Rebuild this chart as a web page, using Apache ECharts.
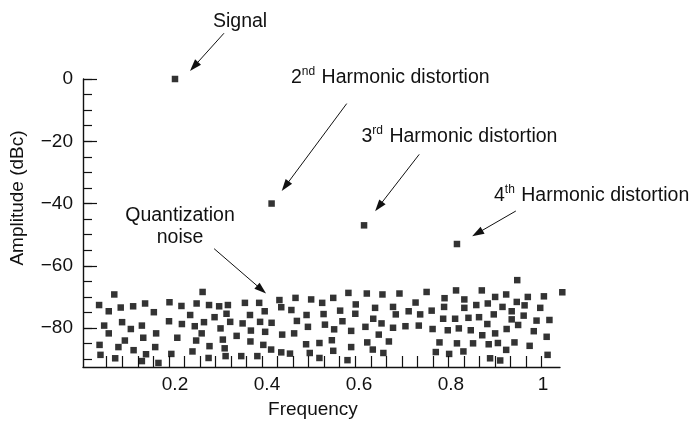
<!DOCTYPE html>
<html><head><meta charset="utf-8">
<script src="https://cdn.jsdelivr.net/npm/echarts@6/dist/echarts.min.js"></script>
<style>html,body{margin:0;padding:0;background:#fff}#c{width:693px;height:425px}</style>
</head><body><div id="c"></div>
<script>
// ---------- data ----------
const harmonicNames = ['Signal', '2nd', '3rd', '4th'];
const harmonicFreq = [0.2, 0.41, 0.611, 0.813];
const harmonicAmp = [0, -40, -47, -53];

const noiseFreq = [
 0.068,0.035,0.056,0.082,0.109,0.135,0.154,0.188,0.214,0.247,0.233,0.260,0.046,0.085,0.104,0.128,0.187,0.215,0.243,0.263,
 0.056,0.091,0.131,0.159,0.205,0.246,0.258,0.036,0.077,0.110,0.157,0.038,0.070,0.137,0.128,0.164,0.192,0.238,
 0.274,0.296,0.315,0.352,0.383,0.427,0.462,0.496,0.520,0.431,0.395,0.453,0.312,0.286,0.363,0.486,0.320,0.347,0.385,0.410,
 0.465,0.523,0.299,0.365,0.396,0.489,0.334,0.433,0.459,0.526,0.304,0.364,0.392,0.485,0.514,0.275,0.308,0.409,0.431,0.450,
 0.493,0.273,0.310,0.344,0.379,0.514,
 0.577,0.617,0.651,0.688,0.747,0.544,0.593,0.635,0.674,0.723,0.786,0.559,0.592,0.680,0.708,0.733,0.758,0.785,0.564,0.631,
 0.546,0.583,0.614,0.649,0.674,0.701,0.730,0.760,0.783,0.643,0.541,0.618,0.665,0.583,0.544,0.630,0.653,0.767,0.775,0.575,
 0.944,0.811,0.867,1.042,0.829,0.896,0.920,0.967,1.002,0.829,0.855,0.880,0.912,0.943,0.960,0.994,0.932,0.809,0.838,0.861,
 0.893,0.958,0.932,0.986,1.014,0.879,0.946,0.793,0.817,0.843,0.868,0.896,0.921,0.980,1.008,0.813,0.848,0.882,0.902,0.938,
 0.971,0.920,0.796,0.827,0.885,0.907,1.010
];
const noiseAmp = [
 -69.2,-72.6,-74.6,-73.4,-73.0,-72.1,-74.9,-71.7,-72.9,-72.1,-75.8,-68.4,-79.2,-78.1,-80.3,-79.2,-77.8,-78.7,-79.4,-78.1,
 -81.7,-84.0,-83.1,-81.7,-83.1,-84.0,-81.7,-85.4,-86.1,-87.1,-86.1,-88.6,-89.7,-88.4,-90.6,-91.2,-88.3,-87.5,
 -72.6,-73.0,-72.6,-71.9,-71.9,-71.0,-70.3,-70.8,-71.9,-73.3,-74.6,-74.2,-75.4,-76.5,-75.8,-75.8,-78.0,-78.5,-78.0,-78.3,
 -77.7,-75.5,-80.1,-80.8,-81.2,-79.6,-82.5,-82.1,-81.7,-78.9,-83.7,-84.3,-85.4,-85.2,-84.8,-85.8,-86.5,-86.9,-87.8,-88.2,
 -88.0,-89.6,-89.0,-89.0,-89.0,-89.6,
 -68.7,-68.9,-69.2,-68.9,-68.4,-70.3,-72.4,-73.5,-73.2,-71.8,-70.4,-74.4,-75.4,-75.6,-74.6,-75.6,-74.4,-73.2,-77.8,-77.0,
 -80.4,-80.9,-79.6,-78.5,-79.9,-79.4,-79.2,-80.3,-77.0,-82.1,-83.9,-84.6,-84.3,-86.1,-87.3,-86.9,-88.0,-87.7,-84.6,-90.3,
 -64.6,-67.9,-67.9,-68.5,-70.8,-70.0,-69.2,-70.0,-69.8,-73.5,-72.6,-72.1,-73.2,-71.6,-72.7,-73.5,-74.6,-77.0,-76.7,-76.5,
 -75.6,-76.0,-77.2,-77.6,-77.4,-78.7,-79.0,-80.7,-80.1,-80.7,-82.3,-81.7,-80.3,-81.0,-82.8,-84.9,-84.9,-85.2,-84.8,-84.6,
 -85.7,-87.0,-88.3,-87.5,-89.7,-90.4,-88.6
];

const xTickLabels = [0.2, 0.4, 0.6, 0.8, 1];
const yTickLabels = [0, -20, -40, -60, -80];

// ---------- layout / style ----------
const FONT = "'Liberation Sans', Arial, Helvetica, sans-serif";
const FS = 19;
const FS_NOTE = 19.5;
const INK = '#111';
const G = {left: 83, top: 79, right: 693 - 560, bottom: 58};
const X_MAX = 1.037, Y_MIN = -92.5;
const plotH = 425 - G.top - G.bottom;
const pxPerDb = plotH / (0 - Y_MIN);
const plotW = 693 - G.left - G.right;
const pxPerUnit = plotW / X_MAX;

const chart = echarts.init(document.getElementById('c'), null, {renderer: 'canvas'});

const hidden = (gi) => ({gridIndex: gi, type: 'value', show: false, min: 0, max: 1});
const noLabelAxis = {axisLabel: {show: false}, splitLine: {show: false}};

const option = {
  animation: false,
  backgroundColor: '#ffffff',
  grid: [
    Object.assign({outerBoundsMode: 'none', containLabel: false}, G),
    {outerBoundsMode: 'none', left: 106.7, right: 693 - 541.7, top: G.top, bottom: G.bottom},
    {outerBoundsMode: 'none', left: G.left, width: 100, top: G.top, height: 80 * pxPerDb},
    {outerBoundsMode: 'none', left: G.left, width: 100, top: G.top, height: 90 * pxPerDb},
    {outerBoundsMode: 'none', left: G.left, width: pxPerUnit, top: G.top, bottom: G.bottom}
  ],
  xAxis: [
    Object.assign({gridIndex: 0, type: 'value', min: 0, max: X_MAX,
      axisLine: {onZero: false, lineStyle: {color: INK, width: 1.4}}, axisTick: {show: false}}, noLabelAxis),
    Object.assign({gridIndex: 1, type: 'value', min: 0, max: 28, interval: 1,
      axisLine: {show: false}, axisTick: {inside: true, length: 11, lineStyle: {color: INK, width: 1.2}}}, noLabelAxis),
    hidden(2), hidden(3),
    {gridIndex: 4, type: 'value', min: 0, max: 1, interval: 0.2,
      axisLine: {show: false}, axisTick: {show: false}, splitLine: {show: false},
      axisLabel: {fontFamily: FONT, fontSize: FS, color: INK, margin: 8,
        formatter: v => xTickLabels.some(t => Math.abs(t - v) < 1e-6) ? String(v) : ''},
      name: 'Frequency', nameLocation: 'middle', nameGap: 33,
      nameTextStyle: {fontFamily: FONT, fontSize: FS, color: INK}}
  ],
  yAxis: [
    Object.assign({gridIndex: 0, type: 'value', min: Y_MIN, max: 0,
      axisLine: {onZero: false, lineStyle: {color: INK, width: 1.4}}, axisTick: {show: false}}, noLabelAxis),
    hidden(1),
    {gridIndex: 2, type: 'value', min: -80, max: 0, interval: 20,
      axisLine: {show: false}, splitLine: {show: false},
      axisTick: {inside: true, length: 14, lineStyle: {color: INK, width: 1.2}},
      axisLabel: {fontFamily: FONT, fontSize: FS, color: INK, margin: 10,
        formatter: v => yTickLabels.indexOf(v) < 0 ? '' : (v < 0 ? '\u2212' + Math.abs(v) : String(v))}},
    Object.assign({gridIndex: 3, type: 'value', min: -90, max: 0, interval: 5,
      axisLine: {show: false}, axisTick: {inside: true, length: 9, lineStyle: {color: INK, width: 1.2}}}, noLabelAxis),
    hidden(4)
  ],
  series: [
    {type: 'scatter', name: 'Quantization noise', xAxisIndex: 0, yAxisIndex: 0, clip: false, silent: true,
      symbol: 'rect', symbolSize: 6.5, itemStyle: {color: '#000'},
      data: noiseFreq.map((f, i) => [f, noiseAmp[i]])},
    {type: 'scatter', name: 'Harmonics', xAxisIndex: 0, yAxisIndex: 0, clip: false, silent: true,
      symbol: 'rect', symbolSize: 6.5, itemStyle: {color: '#000'},
      data: harmonicFreq.map((f, i) => [f, harmonicAmp[i]])}
  ]
};
chart.setOption(option);

// ---------- annotations (arrows in data space, labels) ----------
const arrows = [
  {tail: [0.3065, 14.7], head: [0.2326, 2.6]},
  {tail: [0.5733, -7.9], head: [0.432, -36.0]},
  {tail: [0.731, -24.2], head: [0.635, -42.5]},
  {tail: [0.941, -42.4], head: [0.846, -50.5]},
  {tail: [0.285, -54.5], head: [0.398, -68.9]}
];
const graphics = [];
arrows.forEach(a => {
  const t = chart.convertToPixel({gridIndex: 0}, a.tail);
  const h = chart.convertToPixel({gridIndex: 0}, a.head);
  const dx = h[0] - t[0], dy = h[1] - t[1];
  const len = Math.hypot(dx, dy);
  const ux = dx / len, uy = dy / len;
  const AL = 12, AW = 4;
  const bx = h[0] - ux * AL, by = h[1] - uy * AL;
  graphics.push({type: 'line', silent: true,
    shape: {x1: t[0], y1: t[1], x2: bx + ux * 2, y2: by + uy * 2},
    style: {stroke: INK, lineWidth: 1}});
  graphics.push({type: 'polygon', silent: true,
    shape: {points: [[h[0], h[1]], [bx - uy * AW, by + ux * AW], [bx + uy * AW, by - ux * AW]]},
    style: {fill: INK}});
});
const rich = {
  b: {fontFamily: FONT, fontSize: FS_NOTE, lineHeight: 24, fill: INK, color: INK},
  s: {fontFamily: FONT, fontSize: 12, lineHeight: 24, verticalAlign: 'top', fill: INK, color: INK, padding: [0, 1, 0, 0]}
};
function label(text, x, y, align) {
  graphics.push({type: 'text', silent: true, x: x, y: y,
    style: {text: text, fontFamily: FONT, fontSize: FS_NOTE, fill: INK, align: align || 'left', verticalAlign: 'middle', rich: rich}});
}
label('{b|Signal}', 213, 22);
label('{b|2}{s|nd}{b| Harmonic distortion}', 291, 78);
label('{b|3}{s|rd}{b| Harmonic distortion}', 361.5, 137);
label('{b|4}{s|th}{b| Harmonic distortion}', 494, 196);
label('{b|Quantization}', 180, 216, 'center');
label('{b|noise}', 180, 238, 'center');
graphics.push({type: 'text', silent: true, x: 18, y: 198, rotation: Math.PI / 2,
  style: {text: 'Amplitude (dBc)', fontFamily: FONT, fontSize: FS, fill: INK, align: 'center', verticalAlign: 'middle'}});
chart.setOption({graphic: graphics});
</script>
</body></html>
